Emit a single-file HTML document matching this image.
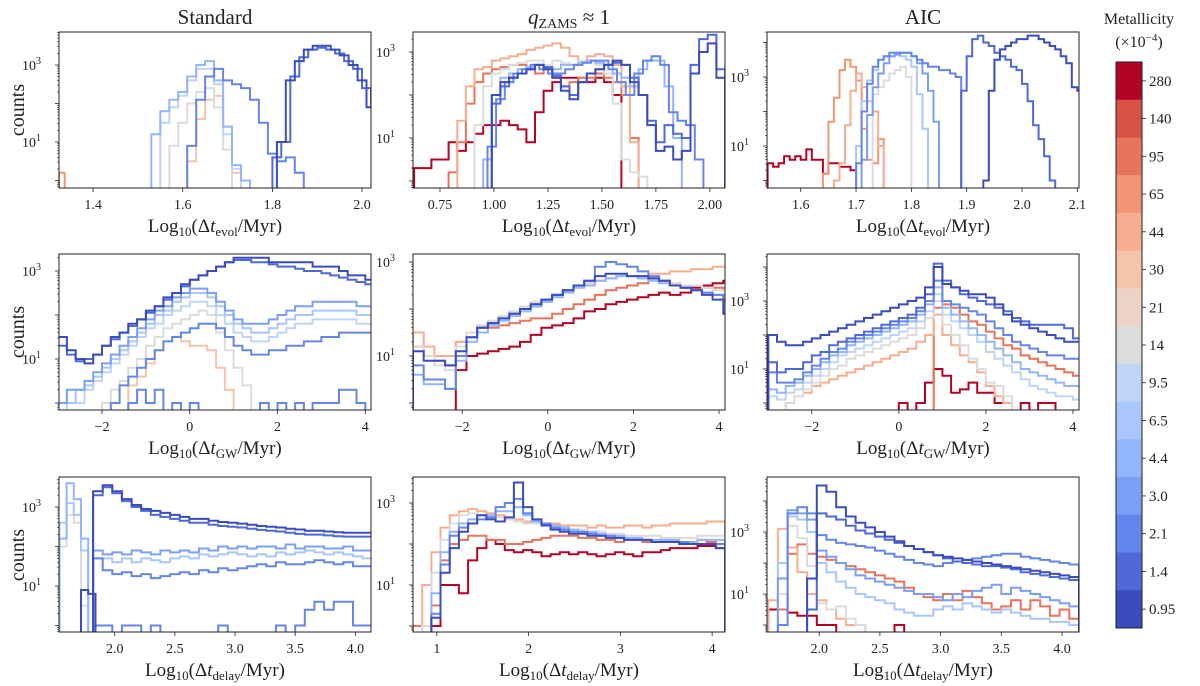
<!DOCTYPE html>
<html><head><meta charset="utf-8"><style>
html,body{margin:0;padding:0;background:#fff;}
svg{display:block;font-family:"Liberation Serif",serif;}
</style></head><body>
<svg id="chart" width="1200" height="686" viewBox="0 0 1200 686" xmlns="http://www.w3.org/2000/svg"></svg>
<script>
// ---- metallicity colours (0.95 ... 280) ----
const metallicityLabels = ['0.95','1.4','2.1','3.0','4.4','6.5','9.5','14','21','30','44','65','95','140','280'];
const COLORS = ['#3b4cc0','#4f69d9','#6485ec','#7b9ff9','#93b5fe','#aac7fd','#c0d4f5','#dddcdc','#ecd3c5','#f5c4ac','#f7ad90','#f39475','#e7745b','#d65244','#b40426'];

// ---- Panel 1: Standard, evol ----
const stdEvol_c0 = [1.0,2.6,3.1,3.4,3.5,3.5,3.4,3.25,3.0,2.6,1.9];
const stdEvol_c1 = [0.6,1.0,2.7,3.2,3.4,3.45,3.4,3.3,3.1,2.9,2.4,1.9];
const stdEvol_c2 = [0.9,2.1,2.7,2.9,2.6,2.5,2.4,2.1,1.5,0.7,0.5,0.6,0.2];
const stdEvol_c4 = [1.2,1.8,2.1,2.3,2.7,3.0,3.1,2.6,1.4,0.4,0.0];
const stdEvol_c6 = [1.5,1.9,2.2,2.6,2.9,2.9,2.5,1.2,0.3];
const stdEvol_c7 = [0.9,1.5,2.0,2.3,2.4,1.9,0.8];
const stdEvol_c9 = [0.5,1.6,2.1,2.2,1.4,0.2];
const stdEvol_c11 = [0.2];

// ---- Panel 2: qZAMS, evol ----
const qEvol_c14 = [0.3,0.3,0.5,0.5,0.9,0.7,0.9,1.1,1.3,1.3,1.4,1.3,1.2,0.9,1.6,2.1,2.3,2.4,2.4,2.3,2.3,2.4,2.3,2.0];
const qEvol_c12 = [0.2,0.9,1.8,2.3,2.5,2.6,2.65,2.7,2.7,2.6,2.5,2.6,2.4,2.2,2.3,2.4,2.4,2.5,2.4,2.3,2.0,1.0];
const qEvol_c10 = [1.4,2.2,2.6,2.65,2.8,2.85,2.9,2.95,3.05,3.1,3.15,3.2,3.1,2.9,2.8,2.9,2.95,2.9,2.7,2.2,0.9];
const qEvol_c7 = [1.3,2.2,2.5,2.6,2.7,2.75,2.8,2.8,2.7,2.8,2.75,2.7,2.8,2.8,2.7,2.5,1.8,0.5,0.2,0.1];
const qEvol_c4 = [0.5,2.0,2.4,2.5,2.6,2.65,2.7,2.65,2.6,2.7,2.7,2.75,2.8,2.75,2.7,2.5,2.4,2.2,2.6,2.8,2.8,2.2,1.0];
const qEvol_c2 = [0.8,1.9,2.3,2.5,2.6,2.7,2.6,2.5,2.5,2.6,2.7,2.75,2.8,2.8,2.6,2.3,2.0,2.5,2.8,2.9,2.7,1.6,1.4,1.3,0.5];
const qEvol_c1 = [1.8,2.2,2.4,2.5,2.6,2.7,2.65,2.45,2.2,2.0,2.3,2.5,2.6,2.7,2.75,2.7,2.4,2.0,1.4,0.9,1.3,1.1,1.0,2.7,3.3,3.4,2.6];
const qEvol_c0 = [2.0,2.3,2.4,2.5,2.6,2.7,2.6,2.4,2.1,1.9,2.3,2.5,2.6,2.7,2.8,2.7,2.3,2.0,1.3,0.7,0.8,0.5,0.7,2.5,3.0,3.2,2.4];

// ---- Panel 3: AIC, evol ----
const aicEvol_c14 = [0.5,0.4,0.5,0.7,0.6,0.7,0.6,0.9,0.6,0.6,0.2,0.5,0.5,0.4,0.4,0.3];
const aicEvol_c11 = [0.2,1.7,2.4,3.2,3.5,3.3,2.9,1.5,0.6,0.5,1.2];
const aicEvol_c10 = [0.0,0.5,1.6,2.6,3.1,2.7,2.3,2.0,1.0,-0.5];
const aicEvol_c7 = [2.5,2.7,2.9,3.1,3.2,3.3,3.0];
const aicEvol_c5 = [1.0,2.3,2.9,3.2,3.5,3.6,3.6,3.7,3.6,3.5,3.3,2.5,1.5];
const aicEvol_c3 = [0.6,1.9,2.7,3.1,3.4,3.6,3.65,3.7,3.7,3.6,3.4,3.1,2.6,1.7];
const aicEvol_c2 = [0.5,2.0,2.8,3.3,3.5,3.6,3.7,3.7,3.7,3.7,3.6,3.5,3.4,3.3,3.3,3.2,3.2,3.1,3.0];
const aicEvol_c1 = [2.6,3.6,4.1,4.2,4.0,3.9,3.7,3.6,3.5,3.3,3.2,2.8,2.3,1.6,1.2,0.7,0.0];
const aicEvol_c0 = [0.0,2.6,3.5,3.8,3.9,4.0,4.1,4.1,4.2,4.2,4.1,4.0,3.9,3.8,3.6,3.4,2.7,2.6];

// ---- Panel 4: Standard, GW ----
const stdGW_c0 = [1.5,1.2,1.0,0.9,1.1,1.3,1.5,1.6,1.8,1.9,2.1,2.2,2.4,2.5,2.7,2.8,2.9,3.0,3.1,3.2,3.3,3.3,3.3,3.3,3.2,3.2,3.2,3.2,3.2,3.1,3.1,3.1,3.0,2.9,2.9,2.8];
const stdGW_c1 = [1.3,1.1,0.95,1.0,1.1,1.3,1.45,1.6,1.75,1.9,2.05,2.2,2.35,2.5,2.65,2.8,2.9,3.0,3.1,3.2,3.25,3.25,3.2,3.2,3.15,3.1,3.1,3.05,3.0,3.0,2.95,2.9,2.85,2.8,2.75,2.7];
const stdGW_c3 = [0.0,0.3,0.3,0.5,0.7,0.9,1.1,1.3,1.5,1.7,1.9,2.1,2.2,2.4,2.5,2.6,2.6,2.5,2.3,2.1,1.9,1.8,1.8,1.8,1.9,2.0,2.1,2.2,2.2,2.3,2.3,2.3,2.3,2.3,2.2,2.2];
const stdGW_c5 = [0.0,0.0,0.3,0.4,0.6,0.8,1.0,1.2,1.4,1.6,1.8,2.0,2.1,2.3,2.4,2.5,2.5,2.4,2.2,2.0,1.8,1.7,1.6,1.6,1.7,1.8,1.9,2.0,2.0,2.1,2.1,2.1,2.1,2.1,2.0,2.0];
const stdGW_c6 = [null,0.0,0.0,0.3,0.5,0.7,0.9,1.1,1.3,1.5,1.7,1.8,2.0,2.1,2.2,2.3,2.3,2.2,2.0,1.8,1.6,1.5,1.4,1.4,1.5,1.6,1.7,1.8,1.8,1.9,1.9,1.9,1.9,1.9,1.8,1.8];
const stdGW_c2 = [null,null,null,null,null,null,0.0,0.4,0.6,0.8,1.0,1.2,1.4,1.5,1.6,1.7,1.8,1.8,1.7,1.5,1.3,1.2,1.1,1.1,1.2,1.2,1.3,1.3,1.4,1.4,1.5,1.5,1.6,1.6,1.6,1.6];
const stdGW_c7 = [null,null,null,null,null,0.0,0.3,0.5,0.8,1.0,1.3,1.5,1.7,1.8,1.9,2.0,2.1,2.0,1.6,1.2,0.8,0.4];
const stdGW_c9 = [null,null,null,null,null,null,null,null,0.4,0.6,0.9,1.2,1.4,1.5,1.4,1.3,1.3,1.2,0.8,0.3];
const stdGW_c2low = [null,null,null,null,null,null,null,null,0.0,0.3,0.0,0.3,null,0.0,null,0.0,null,null,null,null,null,null,null,0.0,null,0.0,null,0.0,null,0.0,0.0,0.0,0.3,0.3,0.0,null];

// ---- Panel 5: qZAMS, GW ----
const qGW_c14 = [null,null,null,null,0.7,1.0,1.05,1.1,1.15,1.2,1.3,1.45,1.6,1.65,1.7,1.8,1.95,2.0,2.1,2.15,2.2,2.25,2.3,2.35,2.3,2.35,2.45,2.5,2.55,2.6];
const qGW_c12 = [1.2,1.0,0.9,0.8,1.3,1.5,1.6,1.6,1.65,1.7,1.75,1.8,1.8,1.9,2.0,2.1,2.2,2.3,2.4,2.45,2.5,2.55,2.65,2.6,2.55,2.5,2.5,2.45,2.45,2.4];
const qGW_c10 = [1.5,1.2,1.0,1.0,1.3,1.5,1.65,1.75,1.85,1.95,2.05,2.15,2.2,2.3,2.4,2.5,2.55,2.6,2.65,2.7,2.7,2.7,2.75,2.75,2.8,2.8,2.85,2.85,2.9,2.9];
const qGW_c7 = [1.2,1.0,0.8,0.7,1.2,1.5,1.65,1.75,1.85,1.95,2.05,2.15,2.2,2.3,2.4,2.5,2.55,2.6,2.65,2.7,2.7,2.65,2.6,2.6,2.55,2.5,2.5,2.45,2.4,2.4];
const qGW_c4 = [0.6,0.4,0.4,0.3,0.9,1.3,1.5,1.65,1.75,1.85,1.95,2.05,2.15,2.25,2.35,2.45,2.5,2.6,2.65,2.7,2.7,2.65,2.6,2.55,2.5,2.45,2.4,2.35,2.3,2.25];
const qGW_c2 = [0.8,0.5,0.5,0.3,1.0,1.4,1.6,1.7,1.8,1.9,2.0,2.1,2.2,2.3,2.4,2.5,2.6,2.9,3.0,2.95,2.9,2.8,2.7,2.6,2.5,2.45,2.4,2.35,2.3,2.2];
const qGW_c0 = [1.1,0.9,0.9,0.8,1.1,1.4,1.6,1.7,1.8,1.9,2.0,2.1,2.2,2.3,2.4,2.5,2.6,2.7,2.75,2.75,2.7,2.7,2.65,2.6,2.5,2.45,2.4,2.3,2.2,1.9];

// ---- Panel 6: AIC, GW ----
const aicGW_c0 = [2.0,1.8,1.7,1.7,1.8,1.9,2.0,2.1,2.2,2.3,2.4,2.5,2.6,2.7,2.8,2.9,3.0,3.1,3.4,4.0,3.5,3.4,3.3,3.2,3.2,3.1,2.9,2.6,2.4,2.3,2.2,2.1,2.0,1.9,1.8,1.8];
const aicGW_c1 = [1.2,0.9,1.0,1.0,1.2,1.4,1.5,1.7,1.8,1.9,2.0,2.1,2.2,2.3,2.4,2.5,2.6,2.8,3.2,4.1,3.6,3.4,3.2,3.1,3.0,2.9,2.8,2.7,2.5,2.4,2.3,2.3,2.3,2.3,2.2,1.9];
const aicGW_c2 = [0.9,0.6,0.6,0.7,0.9,1.1,1.3,1.5,1.6,1.8,1.9,2.0,2.1,2.2,2.3,2.4,2.5,2.7,3.0,3.6,3.0,2.9,2.8,2.7,2.6,2.4,2.2,2.0,1.8,1.7,1.6,1.5,1.4,1.4,1.3,1.3];
const aicGW_c4 = [0.4,0.3,0.5,0.6,0.8,1.0,1.2,1.4,1.5,1.7,1.8,1.9,2.0,2.1,2.2,2.3,2.4,2.6,2.9,3.4,2.8,2.6,2.4,2.2,2.0,1.8,1.6,1.4,1.2,1.0,0.9,0.8,0.7,0.6,0.5,0.5];
const aicGW_c6 = [0.2,0.1,0.3,0.4,0.6,0.8,1.0,1.2,1.4,1.5,1.6,1.7,1.8,1.9,2.0,2.1,2.2,2.4,2.7,3.2,2.6,2.4,2.2,2.0,1.8,1.5,1.3,1.1,0.9,0.7,0.5,0.4,0.3,0.2,0.2,0.1];
const aicGW_c7 = [null,null,0.0,0.2,0.4,0.6,0.8,1.0,1.1,1.3,1.4,1.5,1.6,1.7,1.8,1.9,2.0,2.2,2.5,3.0,2.3,2.0,1.7,1.3,1.0,0.6,0.5,0.2];
const aicGW_c10 = [null,null,0.0,0.2,0.3,0.5,0.6,0.7,0.8,0.9,1.0,1.1,1.2,1.3,1.4,1.5,1.6,1.8,2.0,2.6,2.0,1.7,1.4,1.2,0.9,0.5,0.2,0.0];
const aicGW_c12 = [null,null,null,null,null,null,null,null,null,null,null,null,null,null,null,null,null,null,null,2.8,2.9,2.8,2.6,2.4,2.3,2.1,1.9,1.7,1.6,1.4,1.3,1.2,1.1,1.0,0.9,0.8];
const aicGW_c14 = [null,null,null,null,null,null,null,null,null,null,null,null,null,null,null,0.0,null,0.0,0.6,1.0,0.8,0.3,0.4,0.6,0.3,0.3,0.0,0.0,null,0.0,null,0.0,0.0];

// ---- Panel 7: Standard, delay ----
const stdDelay_c0 = [3.4,3.55,3.4,3.2,3.05,2.95,2.9,2.85,2.8,2.75,2.7,2.7,2.65,2.62,2.6,2.58,2.55,2.52,2.5,2.48,2.45,2.43,2.4,2.4,2.38,2.36,2.35,2.35,2.35];
const stdDelay_c1 = [3.3,3.5,3.35,3.15,3.0,2.9,2.8,2.75,2.7,2.65,2.6,2.6,2.55,2.52,2.5,2.48,2.45,2.42,2.4,2.38,2.35,2.32,2.3,2.3,2.28,2.26,2.25,2.25,2.25];
const stdDelay_c3 = [1.9,1.8,1.85,1.8,1.9,1.85,1.8,1.9,1.85,1.9,1.85,1.95,1.9,2.0,1.95,2.0,1.95,2.0,2.0,1.95,2.05,1.95,2.0,2.0,1.95,1.95,2.0,1.9,1.9];
const stdDelay_c5 = [1.7,1.7,1.6,1.7,1.6,1.7,1.65,1.6,1.7,1.75,1.7,1.8,1.75,1.8,1.85,1.8,1.75,1.8,1.75,1.85,1.8,1.85,1.9,1.85,1.8,1.85,1.8,1.75,1.7];
const stdDelay_c2 = [1.7,1.4,1.3,1.35,1.25,1.3,1.2,1.25,1.3,1.35,1.3,1.4,1.35,1.45,1.4,1.45,1.5,1.55,1.5,1.6,1.55,1.55,1.6,1.65,1.6,1.55,1.6,1.5,1.5];
const stdDelay_c2low = [0.0,0.0,null,0.0,0.0,null,0.0,null,null,null,null,null,null,0.0,null,null,null,null,null,0.0,null,0.0,0.4,0.6,0.4,0.6,0.6,0.0,0.0];
const stdDelayL_c4 = [2.2,3.6,3.2,2.2];
const stdDelayL_c5 = [2.6,3.1,2.8,1.9];
const stdDelayL_c7 = [2.0,2.8,2.6,0.5];
const stdDelayL_c0 = [null,null,null,0.9,0.8];

// ---- Panel 8: qZAMS, delay ----
const qDelay_c14 = [null,null,0.0,1.0,1.0,0.8,1.6,1.9,2.1,2.0,1.85,1.8,1.85,1.8,1.7,1.75,1.8,1.75,1.8,1.75,1.7,1.75,1.8,1.75,1.7,1.8,1.8,1.85,1.9,1.9,1.9,1.95,1.95,1.9];
const qDelay_c12 = [0.0,0.0,0.5,1.6,2.0,2.1,2.2,2.2,2.1,2.1,2.0,2.0,2.05,2.1,2.15,2.2,2.2,2.2,2.15,2.15,2.1,2.1,2.05,2.1,2.1,2.05,2.05,2.1,2.1,2.05,2.05,2.1,2.05,2.0];
const qDelay_c10 = [null,1.0,1.8,2.4,2.7,2.8,2.85,2.8,2.75,2.7,2.65,2.6,2.55,2.55,2.5,2.5,2.45,2.45,2.45,2.4,2.45,2.4,2.4,2.45,2.45,2.4,2.45,2.45,2.5,2.5,2.5,2.5,2.55,2.55];
const qDelay_c7 = [null,0.0,1.3,2.1,2.5,2.7,2.75,2.7,2.7,2.65,2.6,2.55,2.5,2.5,2.45,2.4,2.4,2.35,2.35,2.3,2.3,2.25,2.25,2.2,2.2,2.2,2.2,2.15,2.15,2.15,2.15,2.2,2.2,2.2];
const qDelay_c4 = [null,null,0.8,1.8,2.3,2.5,2.6,2.7,2.7,2.8,2.8,2.9,2.7,2.55,2.5,2.45,2.4,2.35,2.3,2.3,2.25,2.2,2.2,2.15,2.15,2.1,2.1,2.1,2.1,2.05,2.05,2.1,2.1,2.1];
const qDelay_c2 = [null,null,0.3,1.5,2.2,2.4,2.5,2.6,2.65,2.9,3.0,3.1,2.75,2.6,2.5,2.4,2.35,2.3,2.3,2.25,2.2,2.2,2.15,2.1,2.1,2.1,2.05,2.05,2.05,2.05,2.0,2.0,2.0,2.0];
const qDelay_c0 = [null,null,0.2,1.3,1.9,2.3,2.5,2.7,2.6,2.55,2.65,3.5,2.9,2.6,2.45,2.35,2.3,2.25,2.25,2.2,2.2,2.15,2.15,2.1,2.1,2.1,2.05,2.05,2.05,2.0,2.0,2.0,2.0,1.9];

// ---- Panel 9: AIC, delay ----
const aicDelay_c0 = [null,null,null,null,1.5,4.5,4.3,3.8,3.5,3.3,3.15,3.0,2.85,2.7,2.55,2.45,2.35,2.25,2.2,2.15,2.1,2.05,2.0,1.95,1.9,1.85,1.8,1.75,1.7,1.65,1.6,1.55];
const aicDelay_c1 = [null,null,null,null,0.5,3.6,3.5,3.4,3.2,3.05,2.95,2.85,2.75,2.65,2.55,2.45,2.35,2.25,2.15,2.05,2.0,1.95,1.9,1.9,1.85,1.8,1.7,1.65,1.6,1.55,1.5,1.45];
const aicDelay_c2 = [null,0.0,3.6,3.8,3.6,2.9,2.75,2.65,2.6,2.55,2.5,2.4,2.3,2.2,2.1,2.0,1.95,1.9,2.0,2.05,2.1,2.15,2.2,2.25,2.3,2.3,2.2,2.15,2.1,2.05,2.0,1.95];
const aicDelay_c3 = [null,1.5,3.7,3.6,3.4,2.4,2.2,2.0,1.8,1.6,1.5,1.4,1.3,1.2,1.1,1.0,1.0,0.9,0.8,1.0,0.9,1.1,1.2,1.3,1.0,1.2,1.1,1.0,0.9,0.8,0.7,0.6];
const aicDelay_c5 = [null,2.0,3.5,3.4,3.0,2.0,1.7,1.4,1.2,1.0,0.9,0.8,0.7,0.5,0.4,0.3,0.3,0.5,0.6,0.5,0.7,0.6,0.5,0.4,0.5,0.4,0.3,0.2,0.2,0.1,0.1,0.0];
const aicDelay_c7 = [null,1.0,3.2,2.8,1.9,0.7,0.5,0.6,0.2,0.0];
const aicDelay_c12 = [null,0.5,2.3,2.6,2.3,2.2,2.1,2.0,1.9,1.8,1.7,1.6,1.5,1.4,1.2,1.0,0.9,0.8,1.0,0.8,1.1,0.9,0.7,0.5,0.6,0.8,0.5,0.8,0.6,0.3,0.5,0.2];
const aicDelay_c10 = [0.8,3.1,2.5,1.7,1.0,0.8,0.5,0.2,0.0,0.0];
const aicDelay_c14 = [0.5,1.0,0.4,0.3,0.3,0.0,0.0,null,null,null,null,null,null,0.0];

// ---- tick labels ----
const ticks_p1 = [1.4,1.6,1.8,2.0];
const ticks_p2 = [0.75,1.00,1.25,1.50,1.75,2.00];
const ticks_p3 = [1.6,1.7,1.8,1.9,2.0,2.1];
const ticks_gw = [-2,0,2,4];
const ticks_p7 = [2.0,2.5,3.0,3.5,4.0];
const ticks_p8 = [1,2,3,4];
const ticks_p9 = [2.0,2.5,3.0,3.5,4.0];
const yTicksLog = [1,3];

const panels = [
 {name:'standard-evol',L:59,R:371,T:32,B:188,xmin:1.324,xmax:2.02,ref:{v:3,py:65,d:38.5},ticks:ticks_p1,dec:1,sub:'evol',
  series:[[11,1.324,0.0127,stdEvol_c11],[9,1.61,0.02,stdEvol_c9],[7,1.57,0.02,stdEvol_c7],[6,1.55,0.02,stdEvol_c6],[4,1.53,0.02,stdEvol_c4],[2,1.61,0.02,stdEvol_c2],[1,1.80,0.02,stdEvol_c1],[0,1.81,0.02,stdEvol_c0]]},
 {name:'qzams-evol',L:413,R:725,T:32,B:188,xmin:0.625,xmax:2.07,ref:{v:3,py:52,d:43},ticks:ticks_p2,dec:2,sub:'evol',
  series:[[14,0.63,0.04,qEvol_c14],[12,0.79,0.04,qEvol_c12],[10,0.83,0.04,qEvol_c10],[7,0.91,0.04,qEvol_c7],[4,0.95,0.04,qEvol_c4],[2,0.97,0.04,qEvol_c2],[1,0.99,0.04,qEvol_c1],[0,0.99,0.04,qEvol_c0]]},
 {name:'aic-evol',L:767,R:1079,T:32,B:188,xmin:1.539,xmax:2.103,ref:{v:3,py:77,d:34.5},ticks:ticks_p3,dec:1,sub:'evol',
  series:[[14,1.54,0.01,aicEvol_c14],[11,1.64,0.01,aicEvol_c11],[10,1.66,0.01,aicEvol_c10],[7,1.73,0.01,aicEvol_c7],[5,1.70,0.01,aicEvol_c5],[3,1.71,0.01,aicEvol_c3],[2,1.70,0.01,aicEvol_c2],[1,1.89,0.01,aicEvol_c1],[0,1.93,0.01,aicEvol_c0]]},
 {name:'standard-gw',L:59,R:371,T:254,B:410,xmin:-2.98,xmax:4.13,ref:{v:3,py:271,d:44},ticks:ticks_gw,dec:0,sub:'GW',
  series:[[9,-3.0,0.2,stdGW_c9],[7,-3.0,0.2,stdGW_c7],[6,-3.0,0.2,stdGW_c6],[5,-3.0,0.2,stdGW_c5],[3,-3.0,0.2,stdGW_c3],[2,-3.0,0.2,stdGW_c2],[2,-3.0,0.2,stdGW_c2low],[1,-3.0,0.2,stdGW_c1],[0,-3.0,0.2,stdGW_c0]]},
 {name:'qzams-gw',L:413,R:725,T:254,B:410,xmin:-3.15,xmax:4.14,ref:{v:3,py:262,d:47},ticks:ticks_gw,dec:0,sub:'GW',
  series:[[14,-3.15,0.25,qGW_c14],[12,-3.15,0.25,qGW_c12],[10,-3.15,0.25,qGW_c10],[7,-3.15,0.25,qGW_c7],[4,-3.15,0.25,qGW_c4],[2,-3.15,0.25,qGW_c2],[0,-3.15,0.25,qGW_c0]]},
 {name:'aic-gw',L:767,R:1079,T:254,B:410,xmin:-3.03,xmax:4.14,ref:{v:3,py:301,d:34},ticks:ticks_gw,dec:0,sub:'GW',
  series:[[14,-3.0,0.2,aicGW_c14],[12,-3.0,0.2,aicGW_c12],[10,-3.0,0.2,aicGW_c10],[7,-3.0,0.2,aicGW_c7],[6,-3.0,0.2,aicGW_c6],[4,-3.0,0.2,aicGW_c4],[2,-3.0,0.2,aicGW_c2],[1,-3.0,0.2,aicGW_c1],[0,-3.0,0.2,aicGW_c0]]},
 {name:'standard-delay',L:59,R:371,T:477,B:632,xmin:1.537,xmax:4.13,ref:{v:3,py:507,d:39.5},ticks:ticks_p7,dec:1,sub:'delay',
  series:[[7,1.54,0.06,stdDelayL_c7],[5,1.54,0.06,stdDelayL_c5],[4,1.54,0.06,stdDelayL_c4],[5,1.82,0.08,stdDelay_c5],[3,1.82,0.08,stdDelay_c3],[2,1.82,0.08,stdDelay_c2],[2,1.82,0.08,stdDelay_c2low],[0,1.54,0.06,stdDelayL_c0],[1,1.82,0.08,stdDelay_c1],[0,1.82,0.08,stdDelay_c0]]},
 {name:'qzams-delay',L:413,R:725,T:477,B:632,xmin:0.74,xmax:4.14,ref:{v:3,py:503,d:41},ticks:ticks_p8,dec:0,sub:'delay',
  series:[[14,0.74,0.1,qDelay_c14],[12,0.74,0.1,qDelay_c12],[10,0.74,0.1,qDelay_c10],[7,0.74,0.1,qDelay_c7],[4,0.74,0.1,qDelay_c4],[2,0.74,0.1,qDelay_c2],[0,0.74,0.1,qDelay_c0]]},
 {name:'aic-delay',L:767,R:1079,T:477,B:632,xmin:1.57,xmax:4.14,ref:{v:3,py:532,d:31},ticks:ticks_p9,dec:1,sub:'delay',
  series:[[14,1.58,0.08,aicDelay_c14],[12,1.58,0.08,aicDelay_c12],[10,1.58,0.08,aicDelay_c10],[7,1.58,0.08,aicDelay_c7],[5,1.58,0.08,aicDelay_c5],[3,1.58,0.08,aicDelay_c3],[2,1.58,0.08,aicDelay_c2],[1,1.58,0.08,aicDelay_c1],[0,1.58,0.08,aicDelay_c0]]}
];

const NS='http://www.w3.org/2000/svg';
const svg=document.getElementById('chart');
function mk(tag,attrs,parent){const e=document.createElementNS(NS,tag);for(const k in attrs)e.setAttribute(k,attrs[k]);(parent||svg).appendChild(e);return e;}

const defs=mk('defs',{});
panels.forEach((p,pi)=>{
  const g=mk('g',{});
  
  
  const xs=v=>p.L+(v-p.xmin)/(p.xmax-p.xmin)*(p.R-p.L);
  const ys=v=>p.ref.py-(v-p.ref.v)*p.ref.d;
  const cp=mk('clipPath',{id:'cp'+pi},defs);
  mk('rect',{x:p.L,y:p.T,width:p.R-p.L,height:p.B-p.T},cp);
  const sg=mk('g',{'clip-path':'url(#cp'+pi+')'},g);
  const base=p.B+6;
  p.series.forEach(s=>{
    const [c,x0,w,vals]=s;
    let d='M'+xs(x0).toFixed(1)+','+base;
    vals.forEach((v,i)=>{
      const yy=(v===null)?base:ys(v);
      d+=' L'+xs(x0+i*w).toFixed(1)+','+yy.toFixed(1)+' L'+xs(x0+(i+1)*w).toFixed(1)+','+yy.toFixed(1);
    });
    d+=' L'+xs(x0+vals.length*w).toFixed(1)+','+base;
    const path=mk('path',{d:d,fill:'none',stroke:COLORS[c],'stroke-width':2,'stroke-linejoin':'miter'},sg);
    
    
  });
  const frame=mk('rect',{x:p.L,y:p.T,width:p.R-p.L,height:p.B-p.T,fill:'none',stroke:'#222','stroke-width':1},g);
  
  
  // x ticks
  p.ticks.forEach(t=>{
    const x=xs(t);
    mk('line',{x1:x,x2:x,y1:p.B,y2:p.B+4,stroke:'#222','stroke-width':0.8},g);
    const lbl=mk('text',{x:x,y:p.B+21,'text-anchor':'middle','font-size':14,fill:'#222'},g);
    lbl.textContent=(t<0?'\u2212':'')+Math.abs(t).toFixed(p.dec);
    
    
  });
  // y ticks (log)
  const vTop=p.ref.v+(p.ref.py-p.T)/p.ref.d, vBot=p.ref.v-(p.B-p.ref.py)/p.ref.d;
  for(let dcd=-1;dcd<=5;dcd++){
    for(let m=1;m<10;m++){
      const v=dcd+Math.log10(m);
      if(v<vBot||v>vTop)continue;
      const y=ys(v);
      mk('line',{x1:p.L-(m===1?4:2),x2:p.L,y1:y,y2:y,stroke:'#222','stroke-width':m===1?0.8:0.6},g);
    }
  }
  yTicksLog.forEach(v=>{
    if(v<vBot||v>vTop)return;
    const t=mk('text',{x:p.L-18,y:ys(v)+5,'text-anchor':'end','font-size':14,fill:'#222'},g);
    t.textContent='10';
    const sup=mk('tspan',{dy:-6,'font-size':10},t);sup.textContent=String(v);
    
    
  });
  // x label
  const xl=mk('text',{x:(p.L+p.R)/2,y:p.B+44,'text-anchor':'middle','font-size':19,fill:'#222'},g);
  
  
  xl.appendChild(document.createTextNode('Log'));
  const s1=mk('tspan',{'font-size':13,dy:4},xl);s1.textContent='10';
  const s2=mk('tspan',{dy:-4},xl);s2.textContent='(\u0394';
  const s3=mk('tspan',{'font-style':'italic'},xl);s3.textContent='t';
  const s4=mk('tspan',{'font-size':13,dy:4},xl);s4.textContent=p.sub;
  const s5=mk('tspan',{dy:-4},xl);s5.textContent='/Myr)';
});

// y-axis titles "counts"
[110,332,555].forEach(cy=>{
  const t=mk('text',{x:0,y:0,transform:'translate(24,'+cy+') rotate(-90)','text-anchor':'middle','font-size':20,fill:'#222'});
  t.textContent='counts';
  
  
});

// column titles
const t1=mk('text',{x:215,y:24,'text-anchor':'middle','font-size':21,fill:'#222'});t1.textContent='Standard';


const t2=mk('text',{x:569,y:24,'text-anchor':'middle','font-size':21,fill:'#222'});


const q1=mk('tspan',{'font-style':'italic'},t2);q1.textContent='q';
const q2=mk('tspan',{'font-size':14,dy:4},t2);q2.textContent='ZAMS';
const q3=mk('tspan',{dy:-4},t2);q3.textContent=' \u2248 1';
const t3=mk('text',{x:923,y:24,'text-anchor':'middle','font-size':21,fill:'#222'});t3.textContent='AIC';



// colorbar
const cb=mk('g',{});


const cbT=48,cbB=490,cbL=1116,cbW=26;
const cbTop=62,cbBot=628;
const n=COLORS.length,h=(cbBot-cbTop)/n;
for(let i=0;i<n;i++){
  const idx=n-1-i;
  mk('rect',{x:cbL,y:cbTop+i*h,width:cbW,height:h+0.5,fill:COLORS[idx]},cb);
  const y=cbTop+(i+0.5)*h;
  mk('line',{x1:cbL+cbW,x2:cbL+cbW+4,y1:y,y2:y,stroke:'#222','stroke-width':0.8},cb);
  const l=mk('text',{x:cbL+cbW+7,y:y+5,'font-size':15,fill:'#222'},cb);
  l.textContent=metallicityLabels[idx];
  
  
}
mk('rect',{x:cbL,y:cbTop,width:cbW,height:cbBot-cbTop,fill:'none',stroke:'#222','stroke-width':1},cb);
const ct=mk('text',{x:1139,y:24,'text-anchor':'middle','font-size':16,fill:'#222'},cb);ct.textContent='Metallicity';


const cu=mk('text',{x:1139,y:47,'text-anchor':'middle','font-size':16,fill:'#222'},cb);


cu.appendChild(document.createTextNode('(\u00d710'));
const cs=mk('tspan',{'font-size':11,dy:-6},cu);cs.textContent='\u22124';
const ce=mk('tspan',{dy:6},cu);ce.textContent=')';
</script>
</body></html>
